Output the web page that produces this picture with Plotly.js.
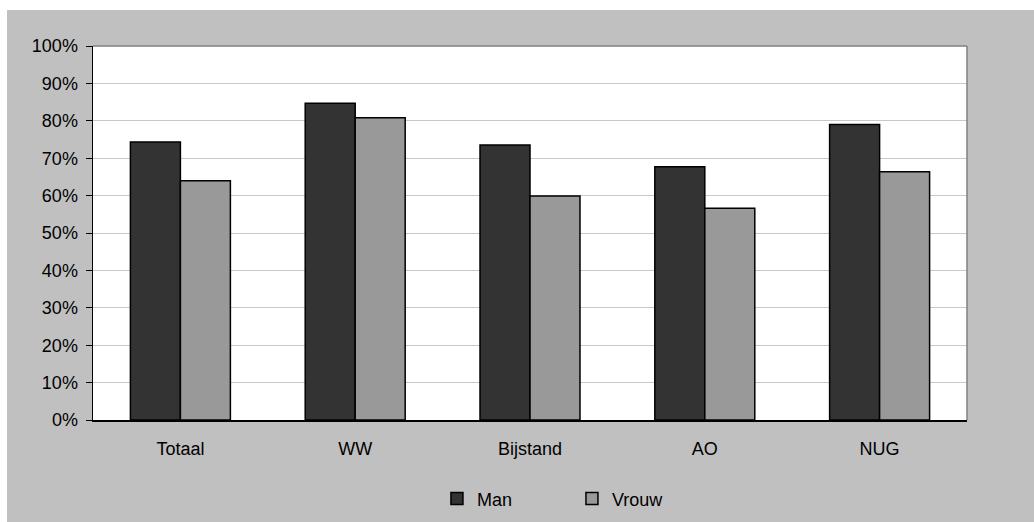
<!DOCTYPE html>
<html>
<head>
<meta charset="utf-8">
<script src="https://cdn.plot.ly/plotly-3.0.1.min.js"></script>
<style>
  html, body { margin: 0; padding: 0; background: #ffffff; }
  #chart { position: absolute; left: 7px; top: 10px; width: 1027px; height: 512px; }
</style>
</head>
<body>
<div id="chart"></div>
<script>
const categories = ["Totaal", "WW", "Bijstand", "AO", "NUG"];
const manValues = [0.743, 0.847, 0.735, 0.677, 0.790];
const vrouwValues = [0.640, 0.808, 0.599, 0.566, 0.664];
const seriesNames = ["Man", "Vrouw"];
const yTickVals = [0, 0.1, 0.2, 0.3, 0.4, 0.5, 0.6, 0.7, 0.8, 0.9, 1.0];
const yTickText = ["0%", "10%", "20%", "30%", "40%", "50%", "60%", "70%", "80%", "90%", "100%"];

const font = { family: "Liberation Sans, Arial, sans-serif", size: 18, color: "#000000" };

const traces = [
  {
    type: "bar", name: seriesNames[0], x: categories, y: manValues,
    marker: { color: "#333333", line: { color: "#000000", width: 1.5 } },
    hoverinfo: "none"
  },
  {
    type: "bar", name: seriesNames[1], x: categories, y: vrouwValues,
    marker: { color: "#999999", line: { color: "#000000", width: 1.5 } },
    hoverinfo: "none"
  }
];

const layout = {
  width: 1027, height: 512,
  margin: { l: 86, r: 67, t: 36, b: 102, autoexpand: false },
  paper_bgcolor: "#c0c0c0",
  plot_bgcolor: "#ffffff",
  font: font,
  barmode: "group",
  bargap: 0.428,
  bargroupgap: 0,
  showlegend: true,
  legend: {
    orientation: "h", x: 0.548, xanchor: "center", y: -0.211, yanchor: "middle",
    font: font, bgcolor: "rgba(0,0,0,0)", itemclick: false,
    entrywidth: 90, entrywidthmode: "pixels", traceorder: "normal"
  },
  xaxis: {
    showgrid: false, showline: true, linecolor: "#000000", linewidth: 1.5,
    ticks: "", ticklabelstandoff: 12, tickfont: font, zeroline: false,
    fixedrange: true, automargin: false
  },
  yaxis: {
    range: [0, 1], tickvals: yTickVals, ticktext: yTickText,
    showgrid: true, gridcolor: "#c8c8c8", gridwidth: 1,
    showline: true, linecolor: "#000000", linewidth: 1.5,
    ticks: "outside", ticklen: 6, tickcolor: "#000000", tickwidth: 1,
    ticklabelstandoff: 4, tickfont: font, zeroline: false, fixedrange: true,
    automargin: false
  },
  shapes: [
    { type: "line", xref: "paper", yref: "paper", x0: 0, x1: 1, y0: 1, y1: 1,
      line: { color: "#808080", width: 1.5 }, layer: "above" },
    { type: "line", xref: "paper", yref: "paper", x0: 1, x1: 1, y0: 0, y1: 1,
      line: { color: "#808080", width: 1.5 }, layer: "above" }
  ]
};

Plotly.newPlot("chart", traces, layout, { staticPlot: true, displayModeBar: false });
</script>
</body>
</html>
